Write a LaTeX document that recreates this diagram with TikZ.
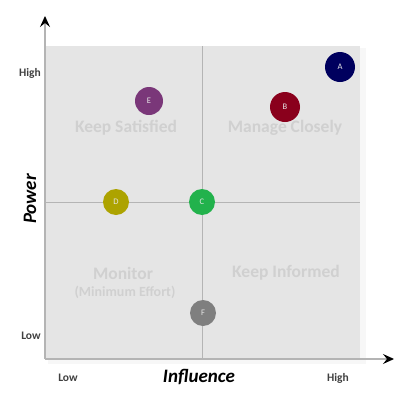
\documentclass[tikz,border=0pt]{standalone}
\usepackage{fontspec}
\setmainfont{Carlito}
\usepackage{tikz}
\usetikzlibrary{arrows.meta}
\definecolor{bggray}{HTML}{E5E5E5}
\definecolor{quadtext}{HTML}{D0D0D0}
\definecolor{axisgray}{HTML}{B4B4B4}
\definecolor{colA}{HTML}{00005E}
\definecolor{colB}{HTML}{8A001C}
\definecolor{colC}{HTML}{22B24C}
\definecolor{colD}{HTML}{ADA300}
\definecolor{colE}{HTML}{7A3779}
\definecolor{colF}{HTML}{7F7F7F}
\tikzstyle{dot}      = [circle, inner sep=0pt, text=white!90!black, font=\fontsize{8.5}{9}\selectfont]
\tikzstyle{quad}     = [text=quadtext, font=\fontsize{17.5}{18}\selectfont\bfseries]
\tikzstyle{tick}     = [text=black!75, font=\fontsize{11.5}{12}\selectfont\bfseries]
\tikzstyle{axis}     = [axisgray, line width=1.2pt, -{Stealth[black, length=11pt, width=10pt, inset=4pt]}]

\begin{document}
\begin{tikzpicture}[x=1pt, y=-1pt]
      \useasboundingbox (0,0) rectangle (400,394);

      \fill [white!97!black] (48,48) rectangle (366,364);
      \fill [bggray] (46,46) rectangle (360,358);
      \draw [axisgray, line width=.6pt] (202,46) -- (202,358);
      \draw [axisgray, line width=.6pt] (46,202) -- (360,202);

      \coordinate (origin) at (45,359);
      \coordinate (ytip)   at (45,16);
      \coordinate (xtip)   at (394,359);
      \draw [axis] (origin) -- (ytip);
      \draw [axis] (origin) -- (xtip);

      \node (ks)  [quad] at (126,128) {Keep Satisfied};
      \node (mc)  [quad] at (285,128) {Manage Closely};
      \node (mon) [quad] at (123,273) {Monitor};
      \node (mef) [quad, font=\fontsize{14}{15}\selectfont\bfseries] at (125,292) {(Minimum Effort)};
      \node (ki)  [quad] at (286,273) {Keep Informed};

      \node (A) [dot, fill=colA, minimum size=30pt] at (340,67)  {A};
      \node (B) [dot, fill=colB, minimum size=30pt] at (285,107) {B};
      \node (E) [dot, fill=colE, minimum size=28pt] at (149,101) {E};
      \node (D) [dot, fill=colD, minimum size=26pt] at (116,202) {D};
      \node (C) [dot, fill=colC, minimum size=26pt] at (202,202) {C};
      \node (F) [dot, fill=colF, minimum size=26pt] at (203,313) {F};

      \node (yhigh) [tick] at (30,73)  {High};
      \node (ylow)  [tick] at (31,336) {Low};
      \node (xlow)  [tick] at (68,378) {Low};
      \node (xhigh) [tick] at (338,378) {High};

      \node (xlab) [font=\fontsize{19}{20}\selectfont\bfseries\itshape] at (199,377) {Influence};
      \node (ylab) [rotate=90, font=\fontsize{19}{20}\selectfont\bfseries\itshape] at (30,199) {Power};

    \end{tikzpicture}
\end{document}
